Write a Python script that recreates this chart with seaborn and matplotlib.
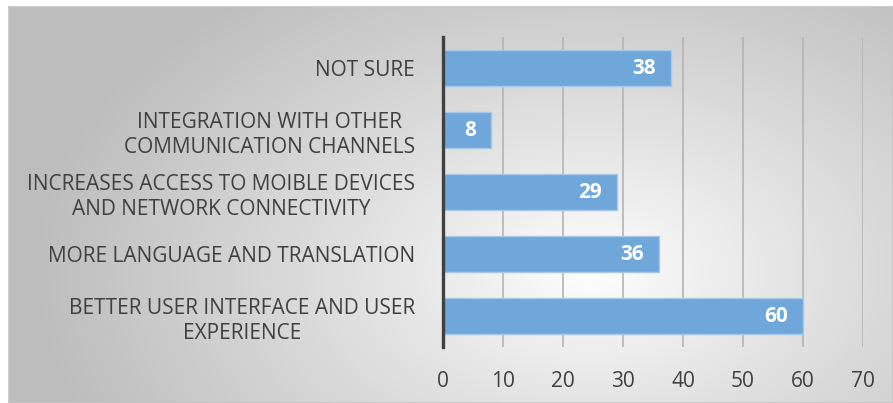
import numpy as np
import pandas as pd
import matplotlib.pyplot as plt
import matplotlib.transforms as mtransforms
import seaborn as sns

# 数据
categories = [
    'NOT SURE',
    'INTEGRATION WITH OTHER\nCOMMUNICATION CHANNELS',
    'INCREASES ACCESS TO MOIBLE DEVICES\nAND NETWORK CONNECTIVITY',
    'MORE LANGUAGE AND TRANSLATION',
    'BETTER USER INTERFACE AND USER\nEXPERIENCE',
]
values = [38, 8, 29, 36, 60]
x_ticks = [0, 10, 20, 30, 40, 50, 60, 70]

df = pd.DataFrame({'category': categories, 'value': values})

sns.set_style('white')
plt.rcParams['font.family'] = ['Open Sans', 'DejaVu Sans']

W, H = 893, 403
fig = plt.figure(figsize=(W / 100, H / 100), dpi=100)

# 背景：径向渐变 + 边框
bx0, by0 = 9, 7
bg = fig.add_axes([bx0 / W, 0, 1 - bx0 / W, 1 - by0 / H])
yy, xx = np.mgrid[by0:H, bx0:W]
cx, cy = 590, 270
d = np.sqrt(((xx - cx) / 560.0) ** 2 + ((yy - cy) / 360.0) ** 2)
g = (255 - 66 * np.clip(d, 0, 1) ** 0.9) / 255.0
bg.imshow(np.dstack([g, g, g]), aspect='auto', extent=[0, 1, 0, 1], origin='upper')
bg.set_xticks([])
bg.set_yticks([])
for s in bg.spines.values():
    s.set_color('#c4c4c4')
    s.set_linewidth(1.2)

# 主图
left, right, top, bottom = 443, 863, 37, 347
ax = fig.add_axes([left / W, 1 - bottom / H, (right - left) / W, (bottom - top) / H])
ax.patch.set_alpha(0)

sns.barplot(data=df, x='value', y='category', orient='h', ax=ax,
            color='#6fa7db', saturation=1, width=0.58,
            edgecolor='#a6c8ea', linewidth=1, zorder=3)

ax.set_xlim(0, 70)
ax.set_xticks(x_ticks)
ax.grid(axis='x', color='#b4b4b4', linewidth=1.2, zorder=0)
ax.set_axisbelow(True)
ax.set_xlabel('')
ax.set_ylabel('')

for s in ['top', 'right', 'bottom']:
    ax.spines[s].set_visible(False)
ax.spines['left'].set_color('#404040')
ax.spines['left'].set_linewidth(2.4)
ax.spines['left'].set_zorder(5)

ax.tick_params(axis='x', length=0, pad=17, labelsize=15, labelcolor='#404040')
ax.tick_params(axis='y', length=0, pad=26, labelsize=15, labelcolor='#404040')
for lbl in ax.get_yticklabels():
    lbl.set_horizontalalignment('center')
    lbl.set_multialignment('center')
    lbl.set_linespacing(1.3)

# 数值标签
for i, v in enumerate(values):
    ax.annotate(str(v), xy=(v, i), xytext=(-11, 0), textcoords='offset points',
                ha='right', va='center', color='white', fontsize=15,
                fontweight='bold', zorder=6)

# y 标签居中排版，右边缘对齐到 x=415 像素
fig.canvas.draw()
renderer = fig.canvas.get_renderer()
for lbl in ax.get_yticklabels():
    bb = lbl.get_window_extent(renderer)
    shift = 415 - bb.x1
    lbl.set_transform(lbl.get_transform() + mtransforms.ScaledTranslation(shift / 100, 0, fig.dpi_scale_trans))

fig.savefig('out.png', dpi=100)
